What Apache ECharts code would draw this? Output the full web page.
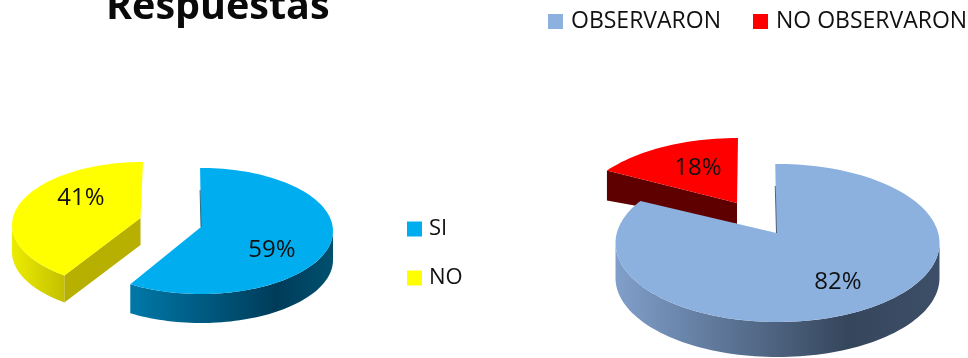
<!DOCTYPE html>
<html><head><meta charset="utf-8">
<style>html,body{margin:0;padding:0;background:#fff}#c{width:968px;height:358px}</style>
<script src="https://cdn.jsdelivr.net/npm/echarts@6/dist/echarts.min.js"></script>
</head><body><div id="c"></div>
<script>
var titleText = 'Respuestas';
var leftCategories = ['SI', 'NO'];
var leftValues = [59, 41];
var rightCategories = ['OBSERVARON', 'NO OBSERVARON'];
var rightValues = [82, 18];

var FONT = '"Open Sans", sans-serif';
var leftLayout = [
  {cx:201,cy:231,rx:132,ry:63,ax:201,ay:227,depth:29,depthApex:29,t0:-0.4,t1:0,
   top:'#00AEEF',lab:[272,250],edge:'#00506f',
   rim:[[0,'#0078a8'],[0.72,'#003c5a'],[1,'#00506f']]},
  {cx:143,cy:225,rx:131,ry:63,ax:140.5,ay:218,depth:27,depthApex:27,t0:4.5,t1:0,
   top:'#FFFF00',lab:[81,198],cut:'#b8b000',
   rim:[[0,'#ecec00'],[1,'#c4c000']]}
];
var rightLayout = [
  {cx:777.5,cy:243,rx:162,ry:79,ax:776.5,ay:233,depth:35,depthApex:35,t0:-0.8,t1:7,
   top:'#8CB1DF',lab:[838,282],edge:'#2f3f55',
   rim:[[0,'#809fca'],[0.72,'#35465c'],[1,'#3d4f68']]},
  {cx:738,cy:217,rx:162,ry:79,ax:737,ay:203,depth:30,depthApex:21,t0:10.8,t1:0,
   top:'#FF0000',lab:[698,168],cut:'#5e0000',
   rim:null}
];

function pt(L, deg, dy) {
  var a = deg * Math.PI / 180;
  return [L.cx + L.rx * Math.sin(a), L.cy - L.ry * Math.cos(a) + (dy || 0)];
}
function arc(L, a, b, dy) {
  var out = [], n = Math.max(2, Math.ceil(Math.abs(b - a) / 2));
  for (var i = 0; i <= n; i++) out.push(pt(L, a + (b - a) * i / n, dy));
  return out;
}
function sliceRender(L, startDeg, endDeg, value) {
  return function () {
    var kids = [];
    var a0 = startDeg + L.t0, a1 = endDeg + L.t1;
    var r0 = Math.max(a0, 90), r1 = Math.min(a1, 270);
    if (L.rim && r1 > r0) {
      var up = arc(L, r0, r1, 0), down = arc(L, r1, r0, L.depth);
      kids.push({type:'polygon', shape:{points:up.concat(down)},
        style:{fill:new echarts.graphic.LinearGradient(1,0,0,0,
          L.rim.map(function(s){return {offset:1-s[0],color:s[1]};}).reverse())}});
    }
    if (L.cut) {
      var p = pt(L, a0, 0);
      kids.push({type:'polygon', shape:{points:[[L.ax,L.ay],p,[p[0],p[1]+L.depth],[L.ax,L.ay+L.depthApex]]},
        style:{fill:L.cut}});
    }
    var pts = [[L.ax, L.ay]].concat(arc(L, a0, a1, 0));
    kids.push({type:'polygon', shape:{points:pts}, style:{fill:L.top}});
    if (L.edge) {
      var s = pt(L, a0, 0);
      kids.push({type:'line', shape:{x1:s[0],y1:s[1]+22,x2:L.ax,y2:L.ay}, style:{stroke:L.edge,lineWidth:0.8}});
    }
    kids.push({type:'text', x:L.lab[0], y:L.lab[1],
      style:{text:value + '%', fill:'#111', font:'24px ' + FONT, align:'center', verticalAlign:'middle'}});
    return {type:'group', children:kids};
  };
}
function buildPie(cats, vals, layout) {
  var total = vals.reduce(function(a,b){return a+b;},0), acc = 0;
  return cats.map(function(name,i){
    var s = acc / total * 360; acc += vals[i];
    var e = acc / total * 360;
    return {type:'custom', name:name, coordinateSystem:'none', silent:true,
      z: i === 0 ? 3 : 2, itemStyle:{color:layout[i].top},
      data:[[vals[i]]], renderItem:sliceRender(layout[i], s, e, vals[i])};
  });
}

var chart = echarts.init(document.getElementById('c'), null, {renderer:'canvas'});
chart.setOption({
  animation:false,
  backgroundColor:'#fff',
  title:{text:titleText,left:101,top:-17,
    textStyle:{fontFamily:FONT,fontWeight:'bold',fontSize:39.5,color:'#0a0a0a'}},
  legend:[
    {data:leftCategories,orient:'vertical',left:402,top:213,icon:'rect',itemWidth:15,itemHeight:15,itemGap:27,
     selectedMode:false,textStyle:{fontFamily:FONT,fontSize:22,color:'#111',padding:[0,0,0,2]}},
    {data:rightCategories,orient:'horizontal',left:543,top:5,width:450,icon:'rect',itemWidth:15,itemHeight:15,itemGap:32,
     selectedMode:false,textStyle:{fontFamily:FONT,fontSize:23,color:'#111',padding:[0,0,0,3]}}
  ],
  series:buildPie(leftCategories,leftValues,leftLayout).concat(buildPie(rightCategories,rightValues,rightLayout))
});
</script></body></html>
